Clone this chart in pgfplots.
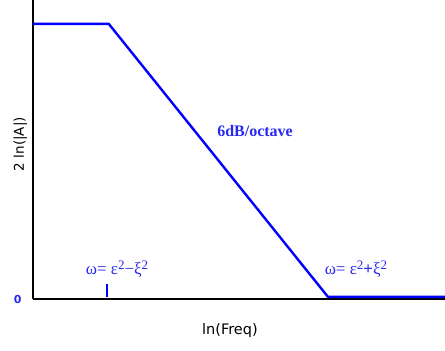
\documentclass[border=0pt]{standalone}
\usepackage{fontspec}
\setmainfont{Liberation Serif}
\setsansfont{DejaVu Sans}
\usepackage{pgfplots}
\pgfplotsset{compat=1.18}
\definecolor{lineblue}{RGB}{0,0,255}
\definecolor{textblue}{RGB}{40,40,240}
\newcommand{\sq}{\raisebox{0.55ex}{\fontsize{13}{14}\selectfont 2}}
\begin{document}
\begin{tikzpicture}[x=1pt,y=1pt]
\path[use as bounding box] (0,0) rectangle (445,351);
\begin{axis}[
  at={(33pt,52pt)}, anchor=south west,
  scale only axis, width=412pt, height=299pt,
  xmin=0, xmax=10, ymin=0, ymax=10,
  axis x line=bottom, axis y line=left,
  axis line style={line width=2.4pt, black, -},
  xtick=\empty, ytick={0}, yticklabels={0},
  /pgf/number format/assume math mode=true,
  major tick length=0pt,
  yticklabel style={font=\sffamily\bfseries\fontsize{11}{12}\selectfont, text=textblue, xshift=-8pt},
  xlabel={ln(Freq)}, ylabel={2 ln(|A|)},
  xlabel style={font=\sffamily\fontsize{14.5}{16}\selectfont, at={(axis description cs:0.478,-0.104)}, anchor=center},
  ylabel style={font=\sffamily\fontsize{13.5}{15}\selectfont, at={(axis description cs:-0.031,0.518)}, anchor=center, rotate=0},
  clip=false,
]
\addplot[lineblue, line width=2.4pt, line join=miter] coordinates {(0,9.2) (1.84,9.2) (7.16,0.07) (10,0.07)};
\addplot[lineblue, line width=2.4pt] coordinates {(1.8,0.07) (1.8,0.5)};
\node[font=\bfseries\fontsize{16}{18}\selectfont, text=textblue] at (axis cs:5.39,5.62) {6dB/octave};
\node[font=\fontsize{17}{19}\selectfont, text=textblue, inner sep=0pt] at (axis cs:2.04,1.0) {ω= ε\sq−ξ\sq};
\node[font=\fontsize{17}{19}\selectfont, text=textblue, inner sep=0pt] at (axis cs:7.84,1.0) {ω= ε\sq{\bfseries +}ξ\sq};
\end{axis}
\end{tikzpicture}
\end{document}
